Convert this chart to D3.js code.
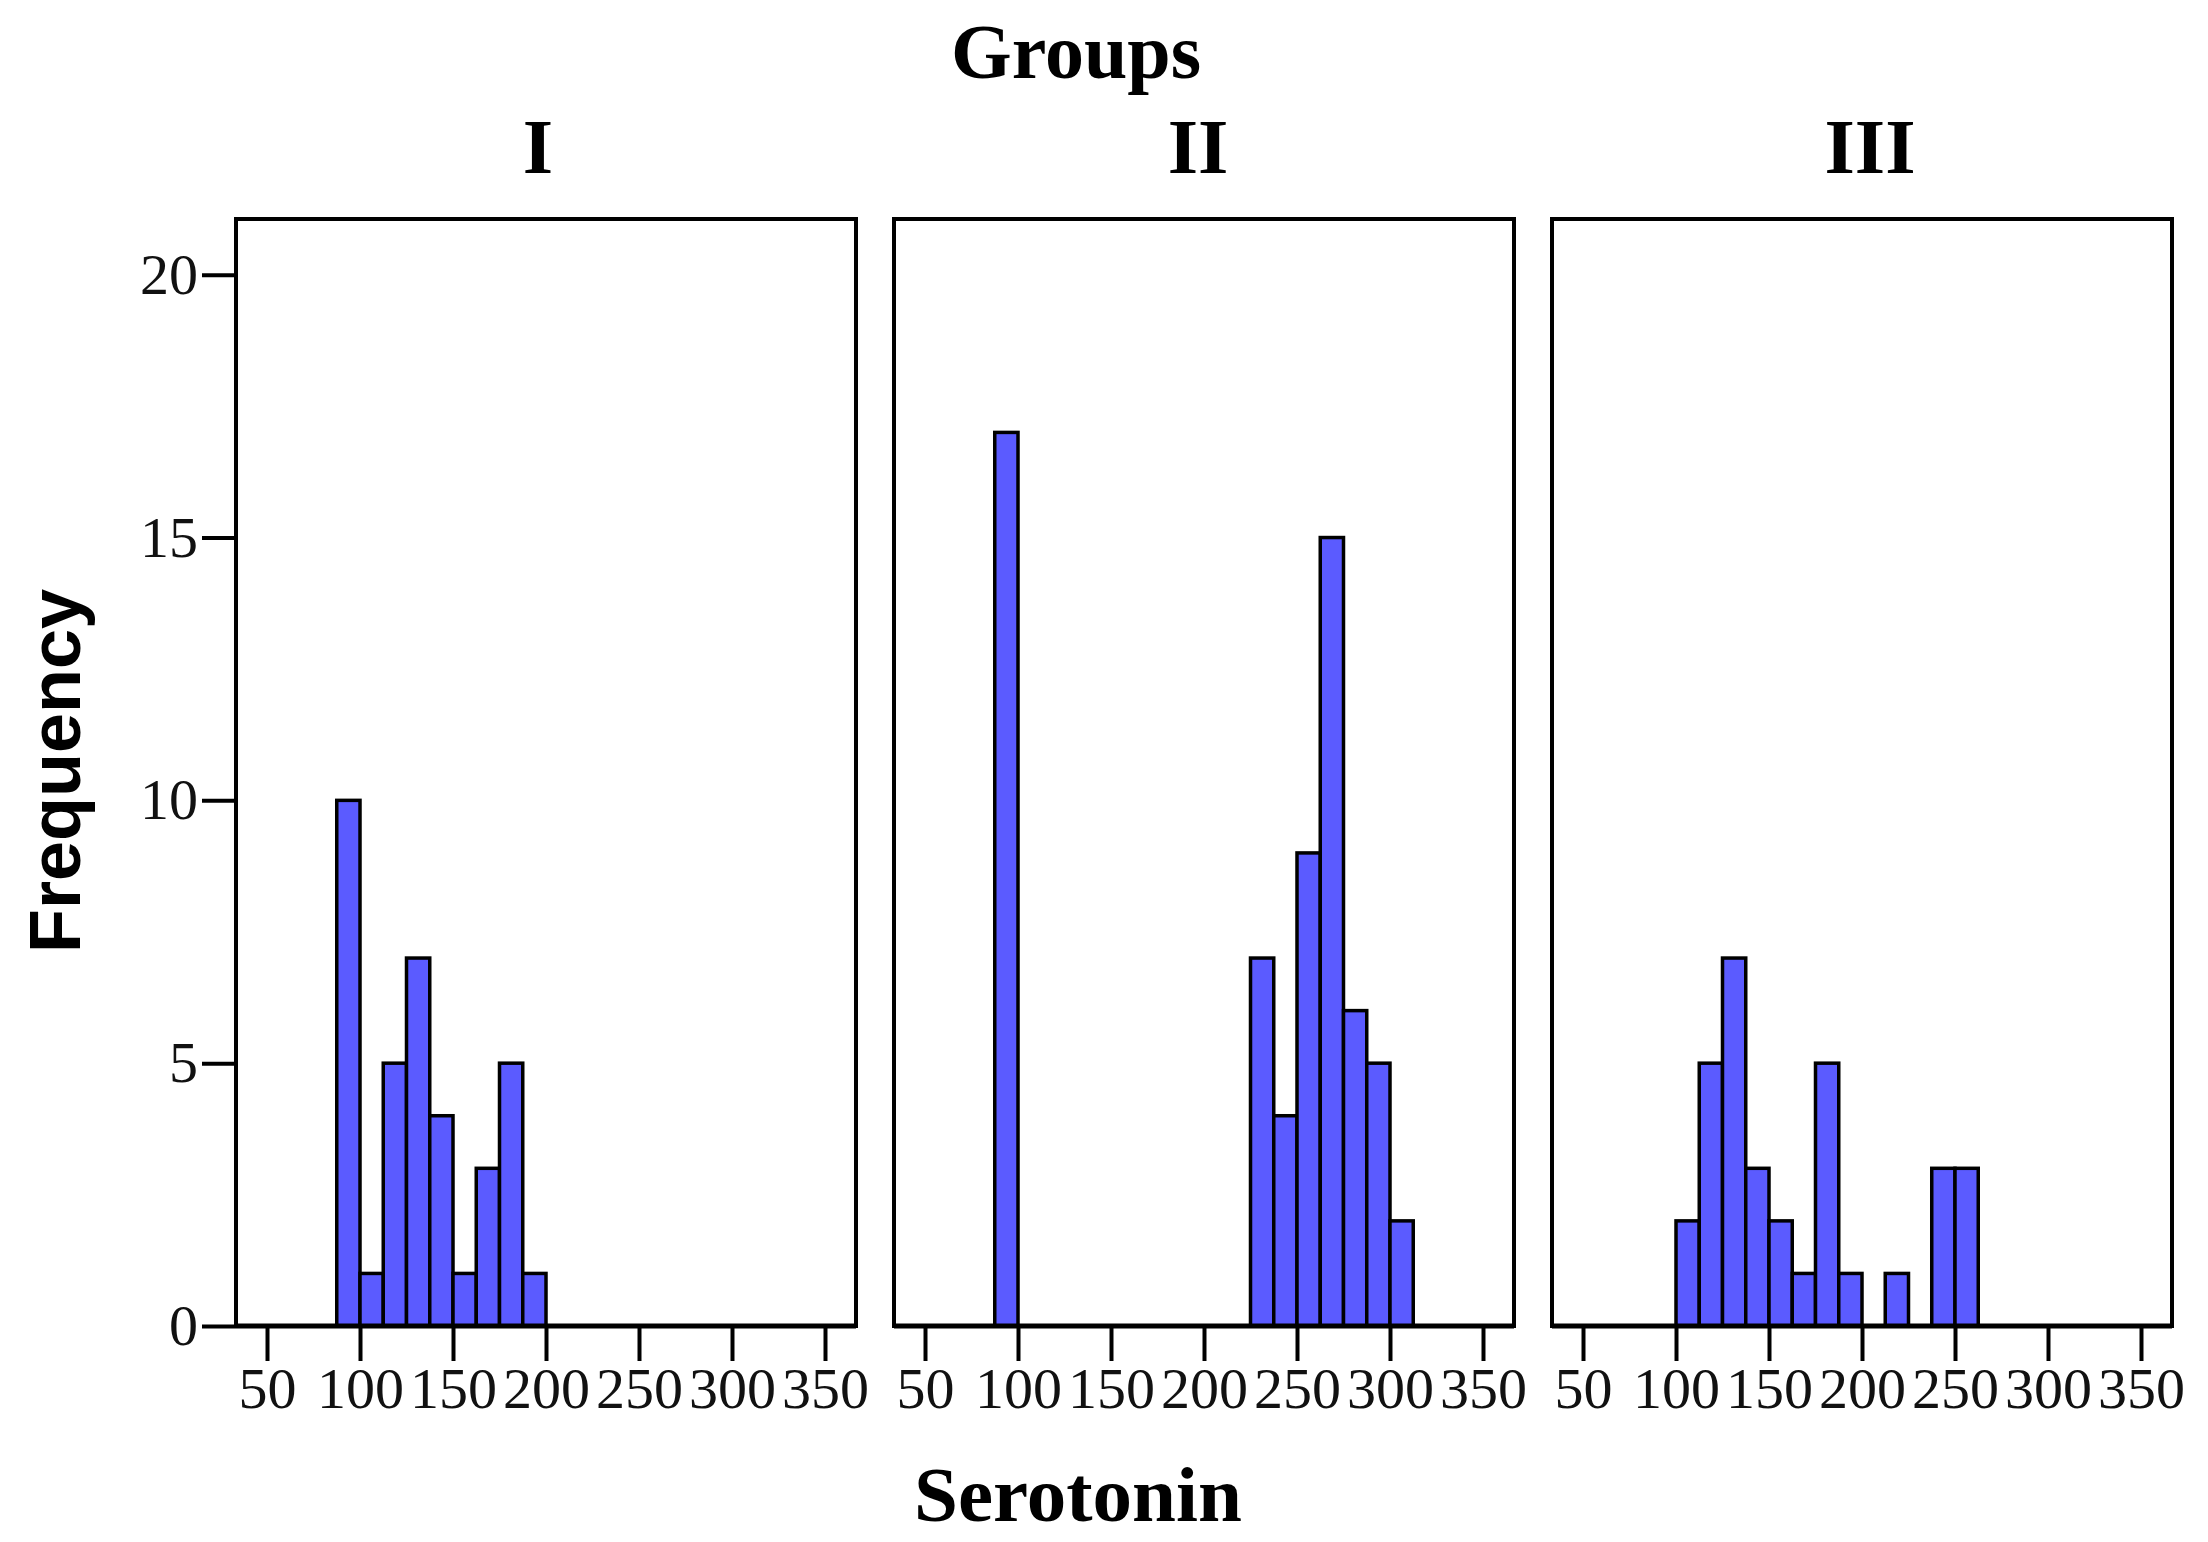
<!DOCTYPE html>
<html>
<head>
<meta charset="utf-8">
<script src="https://cdn.jsdelivr.net/npm/d3@7"></script>
<style>
body { margin: 0; background: #fff; }
</style>
</head>
<body>
<div id="chart"></div>
<script>
// histogram data (bin lower edge, count)
var groups = ["I", "II", "III"];
var binWidth = 12.5;
var binsI = [87.5, 100, 112.5, 125, 137.5, 150, 162.5, 175, 187.5];
var countsI = [10, 1, 5, 7, 4, 1, 3, 5, 1];
var binsII = [87.5, 225, 237.5, 250, 262.5, 275, 287.5, 300];
var countsII = [17, 7, 4, 9, 15, 6, 5, 2];
var binsIII = [100, 112.5, 125, 137.5, 150, 162.5, 175, 187.5, 212.5, 237.5, 250];
var countsIII = [2, 5, 7, 3, 2, 1, 5, 1, 1, 3, 3];
var xTicks = [50, 100, 150, 200, 250, 300, 350];
var yTicks = [0, 5, 10, 15, 20];

function histograms() {

var panels = [
  {name: groups[0], bins: binsI, counts: countsI, dx: -8},
  {name: groups[1], bins: binsII, counts: countsII, dx: -6},
  {name: groups[2], bins: binsIII, counts: countsIII, dx: 8}
];

var width = 2208,
    height = 1542,
    panelW = 620,
    panelStep = 658,
    plotLeft = 236,
    plotTop = 219,
    plotBottom = 1326;

var serif = "'Liberation Serif', 'Times New Roman', serif";

var svg = d3.select("#chart").append("svg")
    .attr("width", width)
    .attr("height", height);

var y = d3.scaleLinear().domain([0, 21.06]).range([plotBottom, plotTop]);

panels.forEach(function(p, i) {
  var x0 = plotLeft + i * panelStep;
  var x = d3.scaleLinear().domain([33.33, 366.67]).range([x0, x0 + panelW]);

  var data = p.bins.map(function(b, j) { return {x0: b, x1: b + binWidth, n: p.counts[j]}; });

  svg.append("g").selectAll("rect")
    .data(data)
    .enter().append("rect")
      .attr("x", function(d) { return x(d.x0); })
      .attr("y", function(d) { return y(d.n); })
      .attr("width", function(d) { return x(d.x1) - x(d.x0); })
      .attr("height", function(d) { return y(0) - y(d.n); })
      .attr("fill", "#5b5bff")
      .attr("stroke", "#000")
      .attr("stroke-width", 3.5);

  // frame
  svg.append("rect")
      .attr("x", x0)
      .attr("y", plotTop)
      .attr("width", panelW)
      .attr("height", plotBottom - plotTop)
      .attr("fill", "none")
      .attr("stroke", "#000")
      .attr("stroke-width", 4);

  svg.append("line")
      .attr("x1", x0).attr("x2", x0 + panelW)
      .attr("y1", plotBottom).attr("y2", plotBottom)
      .attr("stroke", "#000")
      .attr("stroke-width", 5);

  var xa = svg.append("g")
      .attr("transform", "translate(0," + plotBottom + ")")
      .call(d3.axisBottom(x).tickValues(xTicks).tickSize(35).tickPadding(6));
  xa.select(".domain").remove();
  xa.selectAll(".tick line").attr("stroke-width", 4);
  xa.selectAll(".tick text")
      .style("font-family", serif)
      .style("font-size", "58px")
      .attr("fill", "#111");

  svg.append("text")
      .attr("x", x0 + panelW / 2 + p.dx)
      .attr("y", 173)
      .attr("text-anchor", "middle")
      .style("font-family", serif)
      .style("font-weight", "bold")
      .style("font-size", "78px")
      .text(p.name);
});

var ya = svg.append("g")
    .attr("transform", "translate(" + plotLeft + ",0)")
    .call(d3.axisLeft(y).tickValues(yTicks).tickSize(34).tickPadding(4));
ya.select(".domain").remove();
ya.selectAll(".tick line").attr("stroke-width", 4);
ya.selectAll(".tick text")
    .style("font-family", serif)
    .style("font-size", "58px")
    .attr("fill", "#111");

svg.append("text")
    .attr("x", 1076)
    .attr("y", 78)
    .attr("text-anchor", "middle")
    .style("font-family", serif)
    .style("font-weight", "bold")
    .style("font-size", "78px")
    .text("Groups");

svg.append("text")
    .attr("x", 1078)
    .attr("y", 1521)
    .attr("text-anchor", "middle")
    .style("font-family", serif)
    .style("font-weight", "bold")
    .style("font-size", "79px")
    .text("Serotonin");

svg.append("text")
    .attr("transform", "translate(80,771) rotate(-90)")
    .attr("text-anchor", "middle")
    .style("font-family", "'Liberation Sans', Arial, sans-serif")
    .style("font-weight", "bold")
    .style("font-size", "72px")
    .text("Frequency");
}

histograms();
</script>
</body>
</html>
